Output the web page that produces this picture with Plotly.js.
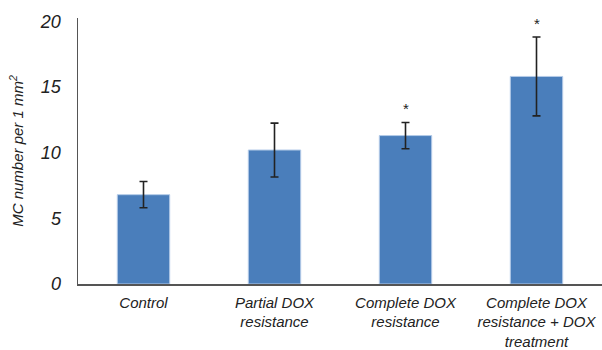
<!DOCTYPE html>
<html>
<head>
<meta charset="utf-8">
<script src="https://cdn.plot.ly/plotly-3.0.1.min.js"></script>
<style>html,body{margin:0;padding:0;background:#fff;}#chart{width:602px;height:350px;}</style>
</head>
<body>
<div id="chart"></div>
<script>
var categories = ['Control', 'Partial DOX<br>resistance', 'Complete DOX<br>resistance', 'Complete DOX<br>resistance + DOX<br>treatment'];
var values = [6.8, 10.2, 11.3, 15.8];
var errors = [1.0, 2.05, 1.0, 3.0];
var stars = ['', '', '*', '*'];
var yTicks = [0, 5, 10, 15, 20];

var font = {family: '"Liberation Sans Narrow", "Liberation Sans", Arial, sans-serif', style: 'italic', color: '#222'};

var trace = {
  type: 'bar',
  x: categories,
  y: values,
  width: 0.4,
  marker: {color: '#4a7ebb', line: {color: '#b4cbe8', width: 1}},
  error_y: {type: 'data', array: errors, visible: true, color: '#222', thickness: 1.6, width: 4}
};

var annotations = [];
for (var i = 0; i < categories.length; i++) {
  if (stars[i]) {
    annotations.push({
      x: categories[i], y: values[i] + errors[i], text: stars[i],
      showarrow: false, yanchor: 'bottom', yshift: 3,
      font: {family: 'Liberation Sans, Arial, sans-serif', size: 15, color: '#222'}
    });
  }
}

var layout = {
  width: 602, height: 350,
  margin: {l: 78, r: 0, t: 18, b: 66},
  paper_bgcolor: '#fff', plot_bgcolor: '#fff',
  showlegend: false,
  bargap: 0.6,
  xaxis: {
    type: 'category',
    range: [-0.5, 3.5],
    showline: true, linecolor: '#555', linewidth: 1.5,
    ticks: '', showgrid: false, zeroline: false,
    tickfont: Object.assign({size: 15}, font),
    ticklabelstandoff: 4
  },
  yaxis: {
    range: [0, 20.25],
    tickvals: yTicks,
    ticktext: yTicks.map(String),
    showline: true, linecolor: '#555', linewidth: 1.5,
    ticks: '', showgrid: false, zeroline: false,
    tickfont: Object.assign({size: 18}, font),
    ticklabelstandoff: 12,
    title: {text: 'MC number per 1 mm<sup>2</sup>', font: Object.assign({size: 15}, font), standoff: 12}
  },
  annotations: annotations
};

Plotly.newPlot('chart', [trace], layout, {displayModeBar: false, staticPlot: true});
</script>
</body>
</html>
